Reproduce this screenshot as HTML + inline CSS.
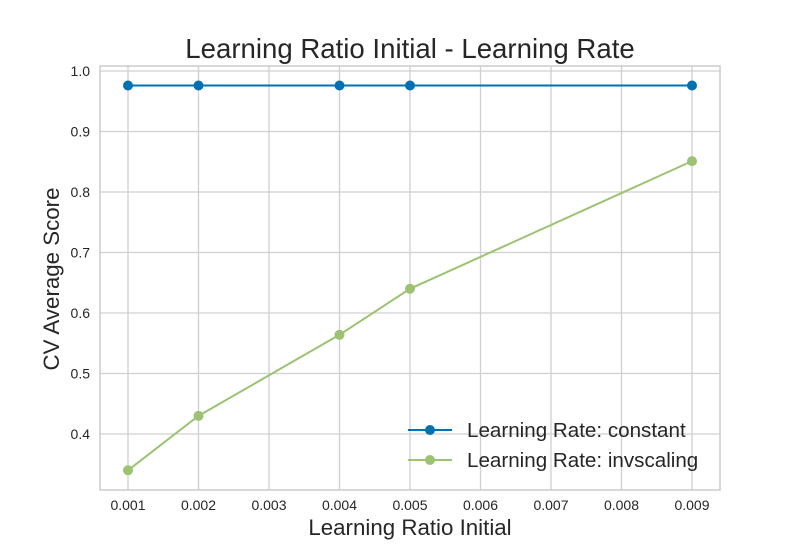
<!DOCTYPE html>
<html><head><meta charset="utf-8"><style>
body{margin:0;background:#fff;}
svg text{font-family:"Liberation Sans",sans-serif;fill:#262626;}
</style></head><body>
<svg id="chart" width="800" height="550" xmlns="http://www.w3.org/2000/svg">
<rect width="800" height="550" fill="#fff"/>
<text x="410" y="58" font-size="27.6" text-anchor="middle">Learning Ratio Initial - Learning Rate</text>
<g id="grid"></g>
<rect x="100" y="66" width="620" height="424" fill="none" stroke="#cccccc" stroke-width="1.5"/>
<g id="ticks"></g>
<g id="series"></g>
<text x="410" y="535" font-size="22.3" text-anchor="middle">Learning Ratio Initial</text>
<text transform="translate(59,279) rotate(-90)" font-size="22.3" text-anchor="middle">CV Average Score</text>
<g>
<g>
<line x1="408" y1="430" x2="452" y2="430" stroke="#0072b2" stroke-width="2"/>
<circle cx="430" cy="430" r="5" fill="#0072b2"/>
<text x="467" y="437" font-size="20.6">Learning Rate: constant</text>
</g>
<g>
<line x1="408" y1="460" x2="452" y2="460" stroke="#9bc372" stroke-width="2"/>
<circle cx="430" cy="460" r="5" fill="#9bc372"/>
<text x="467" y="467" font-size="20.6">Learning Rate: invscaling</text>
</g>
</g>
</svg>
<script>
const xTicks=[0.001,0.002,0.003,0.004,0.005,0.006,0.007,0.008,0.009];
const yTicks=[0.4,0.5,0.6,0.7,0.8,0.9,1.0];
const xValues=[0.001,0.002,0.004,0.005,0.009];
const constantScores=[0.976,0.976,0.976,0.976,0.976];
const invscalingScores=[0.340,0.430,0.564,0.640,0.851];
const NS="http://www.w3.org/2000/svg";
function xs(v){return 128+(v-0.001)/0.001*70.5;}
function ys(v){return 434-(v-0.4)/0.1*60.5;}
const grid=document.getElementById('grid'),ticks=document.getElementById('ticks'),ser=document.getElementById('series');
function mk(tag,attrs,parent){const e=document.createElementNS(NS,tag);for(const k in attrs)e.setAttribute(k,attrs[k]);parent.appendChild(e);return e;}
xTicks.forEach(t=>{
 const l=mk('line',{x1:xs(t),x2:xs(t),y1:66,y2:490,stroke:'#d0d0d0','stroke-width':1.3},grid);
 
 
 const tx=mk('text',{x:xs(t),y:510,'font-size':14,'text-anchor':'middle'},ticks);
 tx.textContent=t.toFixed(3);
 
 
});
yTicks.forEach(t=>{
 const l=mk('line',{x1:100,x2:720,y1:ys(t),y2:ys(t),stroke:'#d0d0d0','stroke-width':1.3},grid);
 
 
 const tx=mk('text',{x:90,y:ys(t)+5,'font-size':14,'text-anchor':'end'},ticks);
 tx.textContent=t.toFixed(1);
 
 
});
function drawSeries(vals,color,name){
 const g=mk('g',{},ser);
 
 
 const p=mk('polyline',{points:vals.map((v,i)=>xs(xValues[i])+','+ys(v)).join(' '),fill:'none',stroke:color,'stroke-width':2},g);
 
 
 vals.forEach((v,i)=>{
  const c=mk('circle',{cx:xs(xValues[i]),cy:ys(v),r:5,fill:color},g);
  
  
 });
}
drawSeries(constantScores,'#0072b2','series-constant');
drawSeries(invscalingScores,'#9bc372','series-invscaling');
</script>
</body></html>
